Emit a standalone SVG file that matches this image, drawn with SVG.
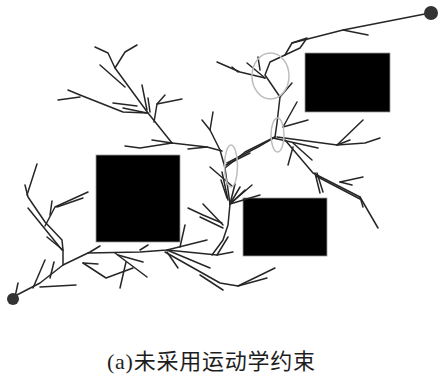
<svg xmlns="http://www.w3.org/2000/svg" width="438" height="380" viewBox="0 0 438 380">
<style>
.t{fill:none;stroke:#262626;stroke-width:1.5;stroke-linecap:round;stroke-linejoin:round}
.e{fill:none;stroke:#bdbdbd;stroke-width:1.5}
.obs{fill:#000;stroke:#9a9a9a;stroke-width:0.8}
.dot{fill:#333}
.cap{font-size:22px;fill:#1e1e1e}
</style>
<rect width="438" height="380" fill="#fff"/>
<g id="obstacle1"><rect class="obs" x="96" y="155" width="84" height="87"/></g>
<g id="obstacle2"><rect class="obs" x="243" y="198" width="84" height="58"/></g>
<g id="obstacle3"><rect class="obs" x="305" y="53" width="85" height="59"/></g>
<g id="connectors">
<polyline class="t" points="13,297 40,283 63,265 90,252 100,246"/>
<polyline class="t" points="15,297 18,283"/>
<polyline class="t" points="33,288 45,260"/>
<polyline class="t" points="50,278 54,262"/>
<polyline class="t" points="40,287 76,285"/>
<polyline class="t" points="63,265 63,250 62,240 45,222 28,197 25,185"/>
<polyline class="t" points="27,195 37,164"/>
<polyline class="t" points="28,208 62,250"/>
<polyline class="t" points="47,237 63,250"/>
<polyline class="t" points="45,226 55,207 88,192"/>
<polyline class="t" points="57,207 83,198"/>
<polyline class="t" points="50,215 52,201"/>
<polyline class="t" points="88,253 140,252 167,250 207,240"/>
<polyline class="t" points="140,250 148,245"/>
<polyline class="t" points="83,263 98,264"/>
<polyline class="t" points="83,263 106,278 133,268"/>
<polyline class="t" points="120,288 126,262"/>
<polyline class="t" points="118,255 143,262"/>
<polyline class="t" points="115,253 147,277"/>
<polyline class="t" points="180,247 185,225"/>
<polyline class="t" points="167,250 217,255 233,252"/>
<polyline class="t" points="167,250 210,268"/>
<polyline class="t" points="167,252 178,268"/>
<polyline class="t" points="165,252 220,283 238,286 275,268"/>
<polyline class="t" points="238,286 267,278"/>
<polyline class="t" points="200,275 223,290"/>
<polyline class="t" points="212,255 223,240 228,225 230,204 225,168 220,150"/>
<polyline class="t" points="217,255 228,237"/>
<polyline class="t" points="188,208 203,215 222,223"/>
<polyline class="t" points="203,204 223,225"/>
<polyline class="t" points="200,217 223,228"/>
<polyline class="t" points="210,167 232,186"/>
<polyline class="t" points="230,204 252,185"/>
<polyline class="t" points="230,204 260,195"/>
<polyline class="t" points="230,204 245,190"/>
<polyline class="t" points="230,204 240,187"/>
<polyline class="t" points="230,204 235,184"/>
<polyline class="t" points="222,172 228,200"/>
<polyline class="t" points="221,180 227,198"/>
<polyline class="t" points="68,90 80,95 123,112 148,113"/>
<polyline class="t" points="58,100 80,97"/>
<polyline class="t" points="113,103 137,106"/>
<polyline class="t" points="123,108 147,113"/>
<polyline class="t" points="142,85 147,110"/>
<polyline class="t" points="148,98 150,112"/>
<polyline class="t" points="165,95 157,104 154,122"/>
<polyline class="t" points="157,104 182,99"/>
<polyline class="t" points="95,47 108,53 115,68 125,52 137,45"/>
<polyline class="t" points="100,65 125,87"/>
<polyline class="t" points="115,68 148,113 172,143"/>
<polyline class="t" points="152,140 172,143"/>
<polyline class="t" points="125,146 140,148 172,143"/>
<polyline class="t" points="172,143 207,147 222,151"/>
<polyline class="t" points="188,149 207,147"/>
<polyline class="t" points="202,120 210,130 220,150"/>
<polyline class="t" points="213,112 210,130"/>
<polyline class="t" points="225,168 245,152 275,137"/>
<polyline class="t" points="227,163 258,147 275,137"/>
<polyline class="t" points="226,165 250,153"/>
<polyline class="t" points="275,137 277,123 280,97"/>
<polyline class="t" points="273,138 318,148"/>
<polyline class="t" points="277,137 337,145 363,120"/>
<polyline class="t" points="337,145 350,140"/>
<polyline class="t" points="337,145 365,143 380,138"/>
<polyline class="t" points="283,127 297,102"/>
<polyline class="t" points="283,127 308,120"/>
<polyline class="t" points="285,140 313,173 360,197 378,228"/>
<polyline class="t" points="293,143 312,160"/>
<polyline class="t" points="293,147 288,165"/>
<polyline class="t" points="315,173 320,193"/>
<polyline class="t" points="317,173 323,192"/>
<polyline class="t" points="316,176 360,199"/>
<polyline class="t" points="340,182 363,177"/>
<polyline class="t" points="340,182 352,185"/>
<polyline class="t" points="360,197 363,207"/>
<polyline class="t" points="280,97 265,75 270,62 285,55 292,43 343,30 430,13"/>
<polyline class="t" points="292,43 307,38 300,48 285,55"/>
<polyline class="t" points="343,30 368,35"/>
<polyline class="t" points="217,62 240,72 265,78"/>
<polyline class="t" points="232,67 238,72"/>
<polyline class="t" points="247,63 265,78"/>
<polyline class="t" points="258,57 260,70"/>
<polyline class="t" points="280,97 292,83"/>
</g>
<g id="marks">
<ellipse class="e" cx="270.5" cy="76" rx="18.5" ry="23"/>
<ellipse class="e" cx="277.5" cy="135" rx="6.5" ry="17"/>
<ellipse class="e" cx="231" cy="166" rx="6.5" ry="21"/>
</g>
<g id="start"><circle class="dot" cx="13" cy="299" r="6"/></g>
<g id="goal"><circle class="dot" cx="431" cy="13" r="7"/></g>
<g id="caption"><text class="cap" x="107" y="369" textLength="208" lengthAdjust="spacing"><tspan font-family="'Liberation Serif', serif">(a)</tspan><tspan font-family="'Noto Sans CJK SC', sans-serif">未采用运动学约束</tspan></text></g>
</svg>
